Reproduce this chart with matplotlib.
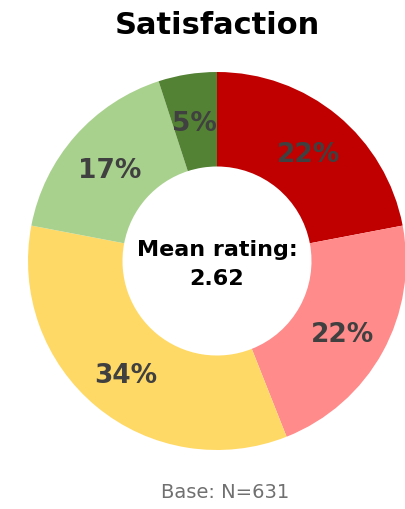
import matplotlib
matplotlib.use("Agg")
import matplotlib.pyplot as plt

labels = ["Very dissatisfied", "Dissatisfied", "Neutral", "Satisfied", "Very satisfied"]
shares = [22, 22, 34, 17, 5]
colors = ["#C00000", "#FF8B8B", "#FFD966", "#A9D18E", "#548235"]
mean_rating = 2.62
base_n = 631

W, H = 405, 509
fig = plt.figure(figsize=(W / 100, H / 100), dpi=100)

# donut axes: centre ~ (217, 261) px, radius ~189 px
cx, cy, r = 217, 261, 189
ax = fig.add_axes([(cx - r) / W, (H - cy - r) / H, 2 * r / W, 2 * r / H])
wedges, _, autotexts = ax.pie(
    shares, colors=colors, startangle=90, counterclock=False, radius=1.0,
    wedgeprops=dict(width=0.5, linewidth=0),
    autopct=lambda p: f"{p:.0f}%", pctdistance=0.76,
)
for t in autotexts:
    x, y = t.get_position()
    t.set_position((x, y - 0.025))
    t.set_color("#404040")
    t.set_fontsize(19)
    t.set_fontweight("bold")
    t.set_family("DejaVu Sans")
ax.set_xlim(-1, 1)
ax.set_ylim(-1, 1)
ax.set_aspect("equal")
ax.axis("off")

ax.text(0, -0.02, f"Mean rating:\n{mean_rating:.2f}", ha="center", va="center",
        fontsize=16, fontweight="bold", family="DejaVu Sans",
        linespacing=1.55, color="black")

fig.text(217 / W, 1 - 25 / H, "Satisfaction", ha="center", va="center",
         fontsize=22, fontweight="bold", family="DejaVu Sans")
fig.text(225 / W, 1 - 493 / H, f"Base: N={base_n}", ha="center", va="center",
         fontsize=14, color="#707070", family="DejaVu Sans")

fig.savefig("out.png", dpi=100)
